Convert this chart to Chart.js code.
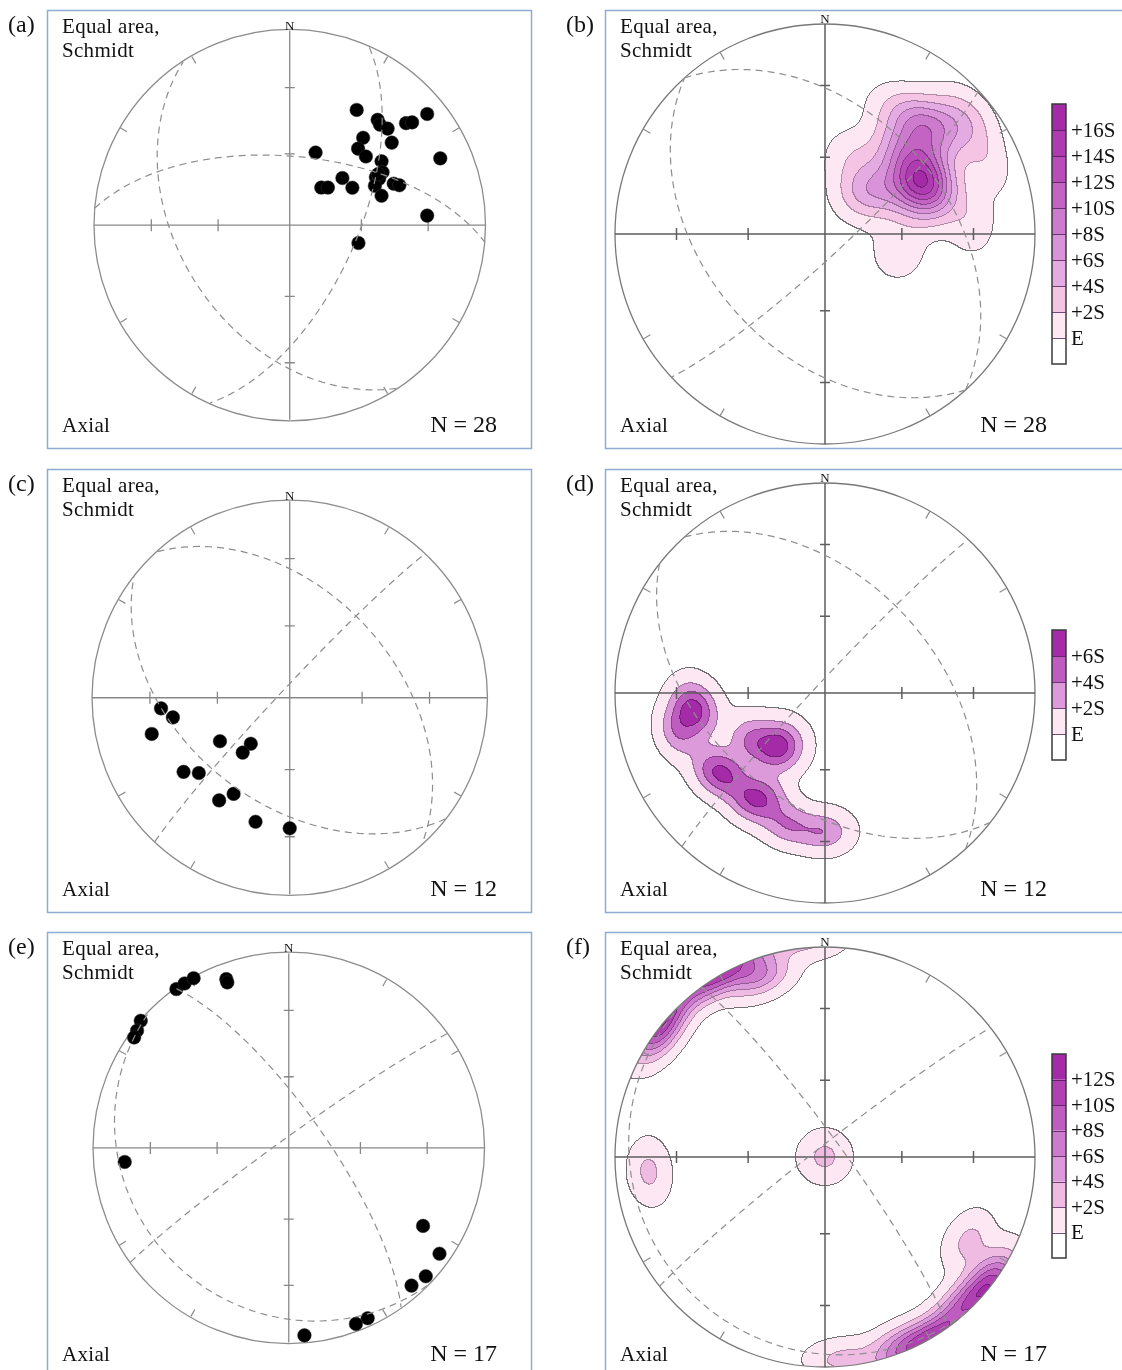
<!DOCTYPE html>
<html>
<head>
<meta charset="utf-8">
<title>Equal area stereonets</title>
<script src="https://cdn.jsdelivr.net/npm/chart.js@4.4.1/dist/chart.umd.min.js"></script>
<style>
  html, body { margin: 0; padding: 0; background: #fff; }
  body { position: relative; width: 1122px; height: 1370px; overflow: hidden; }
  canvas { position: absolute; }
</style>
</head>
<body>
<canvas id="pa" width="560" height="458" style="left:0;top:0"></canvas>
<canvas id="pb" width="562" height="458" style="left:560px;top:0"></canvas>
<canvas id="pc" width="560" height="464" style="left:0;top:458px"></canvas>
<canvas id="pd" width="562" height="464" style="left:560px;top:458px"></canvas>
<canvas id="pe" width="560" height="448" style="left:0;top:922px"></canvas>
<canvas id="pf" width="562" height="448" style="left:560px;top:922px"></canvas>
<script>
// ---- data: projected axes (unit net coordinates, x = east, y = north) ----
// set 1, N = 28 (panels a, b)
const aX = [0.342, 0.449, 0.461, 0.500, 0.594, 0.625, 0.702, 0.375, 0.521, 0.349, 0.389, 0.132, 0.469, 0.769,
            0.474, 0.440, 0.457, 0.269, 0.161, 0.195, 0.320, 0.435, 0.531, 0.560, 0.469, 0.702, 0.351, 0.452];
const aY = [0.592, 0.541, 0.516, 0.496, 0.524, 0.528, 0.571, 0.449, 0.424, 0.393, 0.353, 0.373, 0.328, 0.343,
            0.272, 0.247, 0.239, 0.242, 0.193, 0.193, 0.192, 0.202, 0.213, 0.205, 0.151, 0.049, -0.092, 0.262];
// set 2, N = 12 (panels c, d)
const cX = [-0.651, -0.591, -0.698, -0.353, -0.197, -0.238, -0.537, -0.460, -0.284, -0.357, -0.173, 0.000];
const cY = [-0.054, -0.100, -0.184, -0.221, -0.234, -0.279, -0.377, -0.383, -0.489, -0.522, -0.631, -0.664];
// set 3, N = 17 (panels e, f); the 17th axis is vertical and only shows in the contours
const eX = [-0.574, -0.532, -0.486, -0.319, -0.314, -0.756, -0.775, -0.790, -0.838, 0.686, 0.770, 0.700, 0.627, 0.403, 0.343, 0.080];
const eY = [0.817, 0.846, 0.873, 0.868, 0.851, 0.654, 0.603, 0.568, -0.072, -0.401, -0.544, -0.660, -0.708, -0.876, -0.905, -0.964];
const eVertX = [0.0];
const eVertY = [0.0];

// great circles (dip direction / dip, degrees)
const aDipDir = [114, 5, 237],  aDip = [62, 61, 43];
const bDipDir = [48, 228, 137], bDip = [42, 43, 82];
const cDipDir = [48, 218, 313], cDip = [46, 46, 86];
const dDipDir = [48, 218, 313], dDip = [46, 46, 86];
const eDipDir = [55, 225, 324], eDip = [75, 18, 86];
const fDipDir = [54, 228, 322], fDip = [83, 10, 86];

// contour levels (in standard deviations above E) and their labels
const bLevels = [0, 2, 4, 6, 8, 10, 12, 14, 16];
const bLabels = ['E', '+2S', '+4S', '+6S', '+8S', '+10S', '+12S', '+14S', '+16S'];
const dLevels = [0, 2, 4, 6];
const dLabels = ['E', '+2S', '+4S', '+6S'];
const fLevels = [0, 2, 4, 6, 8, 10, 12];
const fLabels = ['E', '+2S', '+4S', '+6S', '+8S', '+10S', '+12S'];

// net ticks: plunge of the ticks on the cross, azimuth of the rim ticks
const crossTicks = [60, 30];
const rimTicks = [30, 60, 120, 150, 210, 240, 300, 330];

const DEG = Math.PI / 180;
const FONT = '"Liberation Serif", "Times New Roman", serif';

// colour ramp for the density bands
const rampStops = [[0, [253, 231, 243]], [0.125, [245, 196, 228]], [0.25, [228, 170, 226]],
                   [0.5, [205, 123, 205]], [0.75, [184, 76, 184]], [1, [164, 42, 168]]];
function ramp(t) {
  for (let i = 1; i < rampStops.length; i++) {
    if (t <= rampStops[i][0]) {
      const [t0, c0] = rampStops[i - 1], [t1, c1] = rampStops[i];
      const f = (t - t0) / (t1 - t0);
      return c0.map((c, k) => Math.round(c + (c1[k] - c) * f));
    }
  }
  return rampStops[rampStops.length - 1][1];
}
function bandColor(b, nb) { return ramp(nb > 1 ? (b - 1) / (nb - 1) : 1); }

// lower hemisphere, equal area
function toVec(x, y) {
  const d = 1 - (x * x + y * y), f = Math.sqrt(1 + d);
  return [x * f, y * f, d];
}
function planeTrace(dd, dip) {
  const s = (dd - 90) * DEG, a = dd * DEG, p = dip * DEG;
  const S = [Math.sin(s), Math.cos(s)];
  const D = [Math.sin(a) * Math.cos(p), Math.cos(a) * Math.cos(p), Math.sin(p)];
  const pts = [];
  for (let t = 0; t <= 180; t += 2) {
    const c = Math.cos(t * DEG), sn = Math.sin(t * DEG);
    const e = c * S[0] + sn * D[0], n = c * S[1] + sn * D[1], z = sn * D[2];
    const k = 1 / Math.sqrt(1 + z);
    pts.push({ x: e * k, y: n * k });
  }
  return pts;
}

const panels = [
  { id: 'pa', tag: '(a)', n: 28, pts: [aX, aY], dd: aDipDir, dip: aDip, right: false,
    geo: { cx: 290, cy: 225, r: 201, box: [47, 10, 531, 448], l1: 33, l2: 57, bot: 432 } },
  { id: 'pb', tag: '(b)', n: 28, dd: bDipDir, dip: bDip, right: true,
    dens: { x: aX, y: aY, kappa: 60, levels: bLevels, labels: bLabels },
    bar: { x: 492, top: 104, h: 26 },
    geo: { cx: 265, cy: 234, r: 210, box: [45, 10, 580, 448], l1: 33, l2: 57, bot: 432 } },
  { id: 'pc', tag: '(c)', n: 12, pts: [cX, cY], dd: cDipDir, dip: cDip, right: false,
    geo: { cx: 290, cy: 240, r: 203, box: [47, 11, 531, 454], l1: 34, l2: 58, bot: 438 } },
  { id: 'pd', tag: '(d)', n: 12, dd: dDipDir, dip: dDip, right: true,
    dens: { x: cX, y: cY, kappa: 95, levels: dLevels, labels: dLabels },
    bar: { x: 492, top: 172, h: 26 },
    geo: { cx: 265, cy: 235, r: 210, box: [45, 11, 580, 454], l1: 34, l2: 58, bot: 438 } },
  { id: 'pe', tag: '(e)', n: 17, pts: [eX, eY], dd: eDipDir, dip: eDip, right: false,
    geo: { cx: 289, cy: 226, r: 201, box: [47, 10, 531, 470], l1: 33, l2: 57, bot: 439 } },
  { id: 'pf', tag: '(f)', n: 17, dd: fDipDir, dip: fDip, right: true,
    dens: { x: eX.concat(eVertX), y: eY.concat(eVertY), kappa: 85, levels: fLevels, labels: fLabels },
    bar: { x: 492, top: 132, h: 25.5 },
    geo: { cx: 265, cy: 235, r: 210, box: [45, 10, 580, 470], l1: 33, l2: 57, bot: 439 } }
];
const byId = {};
panels.forEach(p => { byId[p.id] = p; });

function drawDensity(chart, p) {
  const d = p.dens, sx = chart.scales.x, sy = chart.scales.y, ctx = chart.ctx;
  const src = d.x.map((x, i) => toVec(x, d.y[i]));
  const N = src.length, k = d.kappa;
  const m1 = (1 - Math.exp(-k)) / k, m2 = (1 - Math.exp(-2 * k)) / (2 * k);
  const E = N * m1, S = Math.sqrt(N * (m2 - m1 * m1));
  const px0 = Math.floor(sx.getPixelForValue(-1)) - 1, px1 = Math.ceil(sx.getPixelForValue(1)) + 1;
  const py0 = Math.floor(sy.getPixelForValue(1)) - 1, py1 = Math.ceil(sy.getPixelForValue(-1)) + 1;
  const W = px1 - px0, H = py1 - py0, nb = d.levels.length;
  const band = new Int8Array(W * H).fill(-1);
  const us = [], vs = [];
  for (let i = 0; i < W; i++) us.push(sx.getValueForPixel(px0 + i + 0.5));
  for (let j = 0; j < H; j++) vs.push(sy.getValueForPixel(py0 + j + 0.5));
  for (let j = 0; j < H; j++) {
    for (let i = 0; i < W; i++) {
      const u = us[i], v = vs[j];
      if (u * u + v * v > 1) continue;
      const g = toVec(u, v);
      let D = 0;
      for (const s of src) D += Math.exp(k * (Math.abs(g[0] * s[0] + g[1] * s[1] + g[2] * s[2]) - 1));
      const z = (D - E) / S;
      let b = 0;
      while (b < nb && z >= d.levels[b]) b++;
      band[j * W + i] = b;
    }
  }
  const img = ctx.createImageData(W, H);
  const px = img.data;
  for (let j = 0; j < H; j++) {
    for (let i = 0; i < W; i++) {
      const idx = j * W + i, b = band[idx];
      if (b < 0) continue;
      let hi = -1, lo = 99;
      const nbh = [];
      if (i + 1 < W) nbh.push(band[idx + 1]);
      if (j + 1 < H) nbh.push(band[idx + W]);
      nbh.forEach(b2 => { if (b2 >= 0 && b2 !== b) { hi = Math.max(hi, b, b2); lo = Math.min(lo, b, b2); } });
      let col = null;
      if (hi >= 0) {
        if (lo === 0) col = [112, 112, 112];
        else col = bandColor(hi, nb).map(c => Math.round(c * 0.72));
      } else if (b > 0) col = bandColor(b, nb);
      if (!col) continue;
      px[idx * 4] = col[0]; px[idx * 4 + 1] = col[1]; px[idx * 4 + 2] = col[2]; px[idx * 4 + 3] = 255;
    }
  }
  const off = document.createElement('canvas');
  off.width = W; off.height = H;
  off.getContext('2d').putImageData(img, 0, 0);
  ctx.drawImage(off, px0, py0);
}

const netPlugin = {
  id: 'net',
  beforeDatasetsDraw(chart) {
    const p = byId[chart.canvas.id];
    const ctx = chart.ctx, sx = chart.scales.x, sy = chart.scales.y;
    if (p.dens) drawDensity(chart, p);
    const cx = sx.getPixelForValue(0), cy = sy.getPixelForValue(0);
    const R = sx.getPixelForValue(1) - cx;
    ctx.save();
    ctx.strokeStyle = p.right ? '#787878' : '#8c8c8c';
    ctx.lineWidth = 1.3;
    ctx.beginPath();
    ctx.arc(cx, cy, R, 0, 2 * Math.PI);
    ctx.stroke();
    ctx.strokeStyle = p.right ? '#5e5e5e' : '#888888';
    ctx.lineWidth = p.right ? 1.5 : 1.3;
    ctx.beginPath();
    ctx.moveTo(sx.getPixelForValue(-1), cy); ctx.lineTo(sx.getPixelForValue(1), cy);
    ctx.moveTo(cx, sy.getPixelForValue(1)); ctx.lineTo(cx, sy.getPixelForValue(-1));
    crossTicks.forEach(pl => {
      const rho = Math.SQRT2 * Math.sin((90 - pl) * DEG / 2);
      [-1, 1].forEach(sg => {
        const tx = sx.getPixelForValue(sg * rho), ty = sy.getPixelForValue(sg * rho);
        ctx.moveTo(tx, cy - 6); ctx.lineTo(tx, cy + 6);
        ctx.moveTo(cx - 5, ty); ctx.lineTo(cx + 5, ty);
      });
    });
    ctx.stroke();
    ctx.strokeStyle = '#8c8c8c';
    ctx.lineWidth = 1.2;
    ctx.beginPath();
    rimTicks.forEach(az => {
      const ux = Math.sin(az * DEG), uy = Math.cos(az * DEG);
      ctx.moveTo(sx.getPixelForValue(ux), sy.getPixelForValue(uy));
      ctx.lineTo(sx.getPixelForValue(ux * 0.96), sy.getPixelForValue(uy * 0.96));
    });
    ctx.stroke();
    ctx.restore();
  },
  afterDraw(chart) {
    const p = byId[chart.canvas.id], g = p.geo, ctx = chart.ctx;
    const sx = chart.scales.x, sy = chart.scales.y;
    ctx.save();
    // frame
    ctx.strokeStyle = '#8eabd4';
    ctx.lineWidth = 1.5;
    ctx.strokeRect(g.box[0] + 0.5, g.box[1] + 0.5, g.box[2] - g.box[0], g.box[3] - g.box[1]);
    // texts
    ctx.fillStyle = '#111111';
    ctx.textBaseline = 'alphabetic';
    ctx.letterSpacing = '0px';
    ctx.font = '24px ' + FONT;
    ctx.textAlign = 'left';
    ctx.fillText(p.tag, p.right ? 6 : 8, g.l1 - 1);
    ctx.font = '21px ' + FONT;
    ctx.letterSpacing = '0.3px';
    const tx = g.box[0] + 15;
    ctx.fillText('Equal area,', tx, g.l1);
    ctx.fillText('Schmidt', tx, g.l2);
    ctx.fillText('Axial', tx, g.bot);
    ctx.letterSpacing = '0px';
    ctx.font = '24px ' + FONT;
    ctx.textAlign = 'right';
    ctx.fillText('N = ' + p.n, p.right ? 487 : 497, g.bot);
    ctx.font = '13px ' + FONT;
    ctx.textAlign = 'center';
    ctx.fillText('N', sx.getPixelForValue(0), sy.getPixelForValue(1) - 1);
    // colour bar
    if (p.bar) {
      const d = p.dens, nb = d.levels.length, bw = 14, h = p.bar.h;
      const x0 = p.bar.x, bottom = p.bar.top + (nb + 1) * h;
      for (let b = 0; b <= nb; b++) {
        const c = b === 0 ? [255, 255, 255] : bandColor(b, nb);
        ctx.fillStyle = 'rgb(' + c.join(',') + ')';
        ctx.fillRect(x0, bottom - (b + 1) * h, bw, h);
      }
      ctx.strokeStyle = 'rgba(70,20,80,0.75)';
      ctx.lineWidth = 1.2;
      ctx.beginPath();
      for (let b = 1; b <= nb; b++) {
        const y = Math.round(bottom - b * h) + 0.5;
        ctx.moveTo(x0, y); ctx.lineTo(x0 + bw, y);
      }
      ctx.stroke();
      ctx.strokeStyle = '#3a3a3a';
      ctx.lineWidth = 1.5;
      ctx.strokeRect(x0, p.bar.top, bw, (nb + 1) * h);
      ctx.fillStyle = '#111111';
      ctx.font = '21px ' + FONT;
      ctx.textAlign = 'left';
      ctx.textBaseline = 'middle';
      d.labels.forEach((lab, i) => {
        ctx.fillText(lab, x0 + bw + 5, bottom - (i + 1) * h + 1);
      });
    }
    ctx.restore();
  }
};

panels.forEach(p => {
  const cv = document.getElementById(p.id);
  const W = cv.width, H = cv.height, g = p.geo;
  const datasets = p.dd.map((dd, i) => ({
    data: planeTrace(dd, p.dip[i]),
    showLine: true,
    pointRadius: 0,
    borderColor: '#8e8e8e',
    borderWidth: 1.2,
    borderDash: [7, 5],
    fill: false
  }));
  if (p.pts) {
    datasets.push({
      data: p.pts[0].map((x, i) => ({ x: x, y: p.pts[1][i] })),
      pointRadius: 6.8,
      pointBackgroundColor: '#000',
      pointBorderColor: '#333',
      pointBorderWidth: 0.5,
      showLine: false
    });
  }
  new Chart(cv, {
    type: 'scatter',
    data: { datasets: datasets },
    options: {
      responsive: false,
      animation: false,
      events: [],
      layout: { padding: 0 },
      scales: {
        x: { type: 'linear', display: false, min: -g.cx / g.r, max: (W - g.cx) / g.r },
        y: { type: 'linear', display: false, min: (g.cy - H) / g.r, max: g.cy / g.r }
      },
      plugins: { legend: { display: false }, tooltip: { enabled: false } }
    },
    plugins: [netPlugin]
  });
});
</script>
</body>
</html>
